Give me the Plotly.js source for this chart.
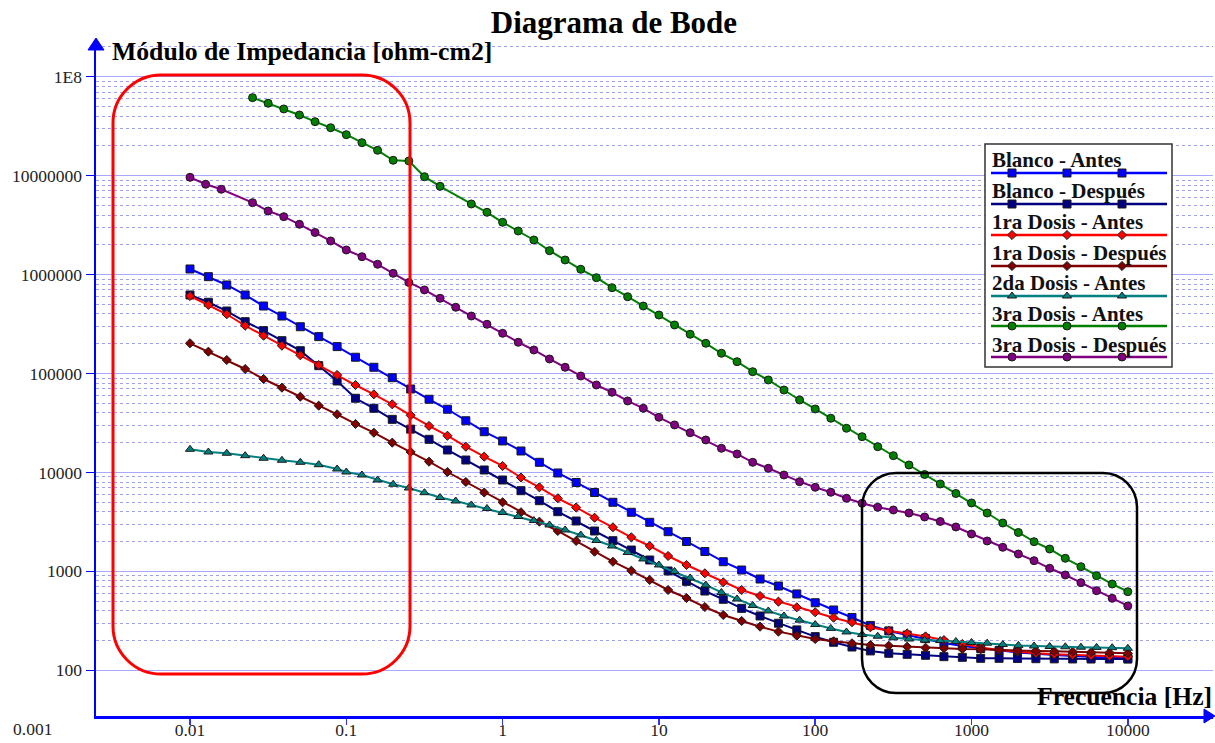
<!DOCTYPE html>
<html><head><meta charset="utf-8">
<script src="https://cdn.plot.ly/plotly-3.0.1.min.js"></script>
<style>html,body{margin:0;padding:0;background:#fff}#chart{width:1215px;height:743px}</style>
</head><body><div id="chart"></div>
<script>
// ---------------- DATA ----------------
const seriesNames = ["Blanco - Antes","Blanco - Después","1ra Dosis - Antes","1ra Dosis - Después","2da Dosis - Antes","3ra Dosis - Antes","3ra Dosis - Después"];

// frequency sweep, 8.5 points/decade (Blanco & 1ra Dosis)
const freqA = [0.01,0.01311,0.01719,0.02254,0.02955,0.03874,0.0508,0.06661,0.08734,0.1145,0.1501,0.1968,0.2581,0.3384,0.4437,0.5818,0.7627,1,1.311,1.719,2.254,2.955,3.874,5.08,6.661,8.734,11.45,15.01,19.68,25.81,33.84,44.37,58.18,76.27,100,131.1,171.9,225.4,295.5,387.4,508,666.1,873.4,1145,1501,1968,2581,3384,4437,5818,7627,10000];
// 2da Dosis frequencies
const freqTeal = [0.01,0.01311,0.01719,0.02254,0.02955,0.03874,0.0508,0.06661,0.08734,0.1,0.1259,0.1585,0.1995,0.2512,0.3162,0.3981,0.5012,0.631,0.7943,1,1.259,1.585,1.995,2.512,3.162,3.981,5.012,6.31,7.943,10,12.59,15.85,19.95,25.12,31.62,39.81,50.12,63.1,79.43,100,125.9,158.5,199.5,251.2,316.2,398.1,501.2,631,794.3,1000,1259,1585,1995,2512,3162,3981,5012,6310,7943,10000];
// 3ra Dosis - Antes frequencies
const freqGreen = [0.02512,0.03162,0.03981,0.05012,0.0631,0.07943,0.1,0.1259,0.1585,0.1995,0.2512,0.3162,0.3981,0.631,0.7943,1,1.259,1.585,1.995,2.512,3.162,3.981,5.012,6.31,7.943,10,12.59,15.85,19.95,25.12,31.62,39.81,50.12,63.1,79.43,100,125.9,158.5,199.5,251.2,316.2,398.1,501.2,631,794.3,1000,1259,1585,1995,2512,3162,3981,5012,6310,7943,10000];
// 3ra Dosis - Después frequencies
const freqPurple = [0.01,0.01259,0.01585,0.02512,0.03162,0.03981,0.05012,0.0631,0.07943,0.1,0.1259,0.1585,0.1995,0.2512,0.3162,0.3981,0.5012,0.631,0.7943,1,1.259,1.585,1.995,2.512,3.162,3.981,5.012,6.31,7.943,10,12.59,15.85,19.95,25.12,31.62,39.81,50.12,63.1,79.43,100,125.9,158.5,199.5,251.2,316.2,398.1,501.2,631,794.3,1000,1259,1585,1995,2512,3162,3981,5012,6310,7943,10000];

const zBlancoAntes = [1139000,952000,785000,622000,481000,381000,297000,236000,187000,146000,115600,90700,69700,54900,43500,33300,25800,20800,16470,12660,9870,7915,6270,4993,3955,3133,2518,2004,1588,1252,1032,837,711,591,482,407,342,284,250,227,209,189,176,166,159,151,146,143,139.5,136,134.7,133];
const zBlancoDespues = [622000,525000,428000,334000,271000,214600,170000,120000,84000,56200,44500,34400,27400,21600,16860,13350,10590,8387,6537,5180,4011,3229,2559,2042,1644,1303,1009,793,633,522,423,354,299,256,219,192,172,157,148.5,145,141.8,137.3,135.3,132.2,132.2,131.5,131,130.5,130.2,130,130,129.8];
const z1raAntes = [607000,493000,397000,304000,241000,191000,152800,121900,96600,76500,61600,48800,37800,29500,23500,18200,14430,11620,8890,7075,5477,4422,3486,2790,2210,1805,1430,1160,956,775,648,564,494,433,386,340,306,272,251,236,220,202,184.5,170,160.4,154,148.5,145.4,142.8,140.5,138.5,137.3];
const z1raDespues = [202000,166200,136900,111100,88000,71900,58300,47300,38700,30900,25200,20000,16090,12840,10100,8009,6270,4993,3955,3178,2559,2028,1580,1252,1016,818,648,538,436,362,315,276,246,224,207,196.5,187.5,180,177.3,173.2,169.2,166.9,164.2,163.1,160.4,157.8,156.7,155.6,154.2,152.1,150.7,148.5];
const z2daAntes = [17130,16090,15620,14770,13900,13270,12660,11970,10830,10100,9422,8387,7590,6961,6241,5580,5143,4688,4321,3937,3586,3267,2943,2619,2332,2051,1805,1551,1334,1160,997,857,728,612,526,452,398,354,321,290,265,244,230,221,213,207,202,199.7,195.5,191,188,182.3,178.5,176,174,172.8,171.2,170.4,169.2,166.9];
const z3raAntes = [61400000,53900000,47200000,41000000,35100000,30500000,25940000,21540000,18040000,14300000,14070000,9760000,7800000,5170000,4260000,3377000,2757000,2236000,1743000,1404000,1131000,930000,737000,597000,481000,390000,309300,249100,202000,160100,131600,104300,86000,68100,54000,43800,35300,27940,22980,18200,14770,11890,9533,7644,6127,4912,3890,3083,2472,1995,1683,1356,1115,904,745,623];
const z3raDespues = [9620000,8180000,7280000,5330000,4390000,3847000,3224000,2663000,2185000,1772000,1516000,1270000,1030000,832000,699000,576000,467000,381000,314400,254900,206800,172800,140200,115600,94400,76500,64600,52800,44500,36100,30200,25200,21280,17540,15360,12660,11010,9422,8064,7075,6300,5477,4877,4443,4172,3890,3545,3193,2809,2387,2028,1751,1498,1282,1074,919,768,638,534,447];

const xTickVals = [0.01,0.1,1,10,100,1000,10000];
const xTickText = ["0.01","0.1","1","10","100","1000","10000"];
const yTickVals = [100,1000,10000,100000,1000000,10000000,100000000];
const yTickText = ["100","1000","10000","100000","1000000","10000000","1E8"];

// ---------------- STYLE / LAYOUT ----------------
const FONT = "'Liberation Serif', 'Times New Roman', serif";
const xs = [freqA,freqA,freqA,freqA,freqTeal,freqGreen,freqPurple];
const ys = [zBlancoAntes,zBlancoDespues,z1raAntes,z1raDespues,z2daAntes,z3raAntes,z3raDespues];
const styles = [
  {color:'#0000FF', symbol:'square', size:8},
  {color:'#000080', symbol:'square', size:8},
  {color:'#FF0000', symbol:'diamond', size:7},
  {color:'#800000', symbol:'diamond', size:7},
  {color:'#008080', symbol:'triangle-up', size:8},
  {color:'#008000', symbol:'circle', size:8},
  {color:'#800080', symbol:'circle', size:8}
];

const PL=96, PR=1213, PT=40, PB=716;
const px2x = p => (p-PL)/(PR-PL);
const py2y = p => (PB-p)/(PB-PT);

const traces = [];
for (let i=0;i<seriesNames.length;i++){
  const s = styles[i];
  traces.push({type:'scatter', mode:'lines+markers', name:seriesNames[i], x:xs[i], y:ys[i],
    xaxis:'x', yaxis:'y', showlegend:false,
    line:{color:s.color, width:2},
    marker:{symbol:s.symbol, size:s.size, color:s.color, line:{color:'#1a1a1a', width:1}}});
}

// custom legend (drawn in its own small subplot, pixel-like coordinates)
const legTextY = [160,191,222,253,283,314,345];
const legLineY = [173,204,235,266,296,326,357];
const annotations = [];
for (let i=0;i<seriesNames.length;i++){
  const s = styles[i];
  traces.push({type:'scatter', mode:'lines', x:[991,1167], y:[legLineY[i],legLineY[i]], xaxis:'x2', yaxis:'y2',
    showlegend:false, hoverinfo:'skip', line:{color:s.color, width:2.5}});
  traces.push({type:'scatter', mode:'markers', x:[1012,1067,1122], y:[legLineY[i],legLineY[i],legLineY[i]], xaxis:'x2', yaxis:'y2',
    showlegend:false, hoverinfo:'skip', marker:{symbol:s.symbol, size:s.size, color:s.color, line:{color:'#1a1a1a', width:1}}});
  annotations.push({xref:'x2', yref:'y2', x:990, y:legTextY[i], xanchor:'left', yanchor:'middle', showarrow:false,
    text:'<b>'+seriesNames[i]+'</b>', font:{family:FONT, size:21, color:'#111'}});
}

annotations.push({xref:'paper', yref:'paper', x:px2x(110), y:py2y(52), xanchor:'left', yanchor:'middle', showarrow:false,
  text:'<b>Módulo de Impedancia [ohm-cm2]</b>', font:{family:FONT, size:25.7, color:'#000'}});
annotations.push({xref:'paper', yref:'paper', x:px2x(1214), y:py2y(696), xanchor:'right', yanchor:'middle', showarrow:false,
  text:'<b>Frecuencia [Hz]</b>', font:{family:FONT, size:25.6, color:'#000'}});
annotations.push({xref:'paper', yref:'paper', x:px2x(32), y:py2y(729), xanchor:'center', yanchor:'middle', showarrow:false,
  text:'0.001', font:{family:FONT, size:17.5, color:'#222'}});

function P(px,py){ return px2x(px).toFixed(5)+','+py2y(py).toFixed(5); }
function roundRect(x0,y0,x1,y1,r){
  const k=0.5523*r;
  return 'M'+P(x0+r,y0)+' L'+P(x1-r,y0)+' C'+P(x1-r+k,y0)+' '+P(x1,y0+r-k)+' '+P(x1,y0+r)+
    ' L'+P(x1,y1-r)+' C'+P(x1,y1-r+k)+' '+P(x1-r+k,y1)+' '+P(x1-r,y1)+
    ' L'+P(x0+r,y1)+' C'+P(x0+r-k,y1)+' '+P(x0,y1-r+k)+' '+P(x0,y1-r)+
    ' L'+P(x0,y0+r)+' C'+P(x0,y0+r-k)+' '+P(x0+r-k,y0)+' '+P(x0+r,y0)+' Z';
}
function tri(a,b,c){ return 'M'+P(a[0],a[1])+' L'+P(b[0],b[1])+' L'+P(c[0],c[1])+' Z'; }

const shapes = [
  // hide minor grid below 100
  {type:'rect', xref:'x', yref:'y', x0:0.0001, x1:100000, y0:1, y1:98, layer:'between', fillcolor:'#ffffff', line:{width:0}},
  // legend background and frame
  {type:'rect', xref:'x2', yref:'y2', x0:985, x1:1172, y0:144, y1:367, layer:'below', fillcolor:'#ffffff', line:{width:0}},
  {type:'rect', xref:'paper', yref:'paper', x0:px2x(985), x1:px2x(1172), y0:py2y(367), y1:py2y(144), layer:'above', line:{color:'#333', width:1.5}},
  // highlight frames
  {type:'path', xref:'paper', yref:'paper', path:roundRect(113,75,410,674,48), layer:'above', line:{color:'#FF0000', width:3}},
  {type:'path', xref:'paper', yref:'paper', path:roundRect(862,473,1137,693,34), layer:'above', line:{color:'#000000', width:2.5}},
  // axis arrows
  {type:'path', xref:'paper', yref:'paper', path:tri([96,38],[88,50],[104,50]), layer:'above', fillcolor:'#0000FF', line:{color:'#0000FF', width:1}},
  {type:'path', xref:'paper', yref:'paper', path:tri([1215,716],[1204,709],[1204,723]), layer:'above', fillcolor:'#0000FF', line:{color:'#0000FF', width:1}}
];

const layout = {
  width:1215, height:743,
  margin:{l:PL, r:1215-PR, t:PT, b:743-PB, pad:0},
  paper_bgcolor:'#ffffff', plot_bgcolor:'#ffffff',
  showlegend:false,
  font:{family:FONT, color:'#222'},
  title:{text:'<b>Diagrama de Bode</b>', x:614/1215, xanchor:'center', xref:'container', y:1-22/743, yanchor:'middle', yref:'container',
    font:{family:FONT, size:31, color:'#000'}},
  xaxis:{type:'log', range:[-2.6014, 4.545], domain:[0,1], anchor:'y', showgrid:false, zeroline:false,
    showline:true, linecolor:'#0000FF', linewidth:2.5, ticks:'outside', ticklen:6, tickwidth:1.5, tickcolor:'#3030FF',
    ticklabelstandoff:-10,
    tickmode:'array', tickvals:xTickVals, ticktext:xTickText, tickfont:{family:FONT, size:17.5, color:'#222'}, fixedrange:true},
  yaxis:{type:'log', range:[1.538, 8.371], domain:[0,1], anchor:'x', showgrid:true, gridcolor:'#a8a8ff', gridwidth:1.2, zeroline:false,
    minor:{dtick:'D1', showgrid:true, gridcolor:'#a0a0f0', griddash:'dot', gridwidth:1, ticks:''},
    showline:true, linecolor:'#0000FF', linewidth:2.5, ticks:'outside', ticklen:8, tickwidth:1.5, tickcolor:'#0000FF',
    tickmode:'array', tickvals:yTickVals, ticktext:yTickText, tickfont:{family:FONT, size:17.5, color:'#222'}, fixedrange:true},
  xaxis2:{domain:[px2x(985), px2x(1172)], anchor:'y2', range:[985,1172], visible:false, fixedrange:true},
  yaxis2:{domain:[py2y(367), py2y(144)], anchor:'x2', range:[367,144], visible:false, fixedrange:true},
  shapes:shapes,
  annotations:annotations
};

Plotly.newPlot('chart', traces, layout, {displayModeBar:false, staticPlot:true});
</script></body></html>
